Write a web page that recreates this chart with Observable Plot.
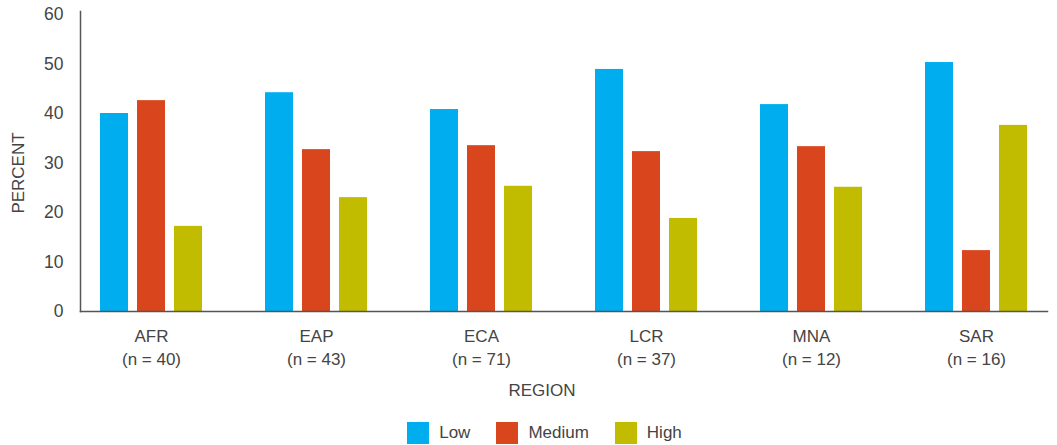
<!DOCTYPE html>
<html>
<head>
<meta charset="utf-8">
<script src="https://cdn.jsdelivr.net/npm/d3@7"></script>
<script src="https://cdn.jsdelivr.net/npm/@observablehq/plot@0.6"></script>
<style>
  html, body { margin: 0; padding: 0; background: #fff; }
  #chart { width: 1057px; }
  div.lg-swatches { font-family: "Liberation Sans", Arial, sans-serif !important; font-size: 17px !important; color: #444 !important;
    margin: 17px 0 0 0 !important; min-height: 0 !important; justify-content: center; padding-left: 32px; }
  span.lg-swatch { margin-right: 26px !important; }
  span.lg-swatch:last-child { margin-right: 0 !important; }
  span.lg-swatch > svg { margin-right: 10px !important; }
</style>
</head>
<body>
<div id="chart"></div>
<script>
const regions = ["AFR", "EAP", "ECA", "LCR", "MNA", "SAR"];
const counts = [40, 43, 71, 37, 12, 16];
const levels = ["Low", "Medium", "High"];
const low = [40.0, 44.2, 40.8, 48.9, 41.8, 50.3];
const medium = [42.6, 32.7, 33.5, 32.3, 33.3, 12.3];
const high = [17.2, 23.0, 25.3, 18.8, 25.1, 37.6];
const colors = ["#00AEEF", "#D9451D", "#C2BC00"];
const yTicks = [0, 10, 20, 30, 40, 50, 60];

const series = {Low: low, Medium: medium, High: high};
const data = regions.flatMap((r, i) => levels.map(l => ({region: r, level: l, value: series[l][i]})));

const font = '"Liberation Sans", Arial, sans-serif';

const chart = Plot.plot({
  width: 1057,
  height: 405,
  marginLeft: 80,
  marginRight: 0,
  marginTop: 14,
  marginBottom: 94,
  style: {fontFamily: font, fontSize: "17px", color: "#444", background: "#fff", overflow: "visible"},
  fx: {domain: regions, paddingInner: 0.1394, paddingOuter: 0.0303, align: 0, label: null, axis: null},
  x: {domain: levels, paddingInner: 0.243, paddingOuter: 0.54, axis: null},
  y: {domain: [0, 60], label: null},
  color: {domain: levels, range: colors},
  marks: [
    Plot.barY(data, {fx: "region", x: "level", y: "value", fill: "level"}),
    Plot.axisY({ticks: yTicks, tickSize: 0, tickPadding: 17, label: null, fontSize: 17.5}),
    Plot.text(["PERCENT"], {frameAnchor: "left", facet: "super", rotate: -90, textAnchor: "middle", lineAnchor: "middle", dx: -62, dy: 10, fontSize: 17, fill: "#444"}),
    Plot.axisFx({anchor: "bottom", tickSize: 0, tickPadding: 14, lineHeight: 1.35, label: null,
      tickFormat: d => `${d}\n(n = ${counts[regions.indexOf(d)]})`}),
    Plot.frame({anchor: "left", facet: "super", stroke: "#555", strokeWidth: 1.5, insetTop: -3}),
    Plot.frame({anchor: "bottom", facet: "super", stroke: "#555", strokeWidth: 1.5}),
    Plot.text(["REGION"], {frameAnchor: "bottom", facet: "super", dy: 84, dx: -22, fontSize: 17, fill: "#444"})
  ]
});

const legend = Plot.legend({
  color: {type: "ordinal", domain: levels, range: colors},
  legend: "swatches",
  swatchSize: 22,
  className: "lg"
});

const root = document.getElementById("chart");
root.appendChild(chart);
root.appendChild(legend);
</script>
</body>
</html>
